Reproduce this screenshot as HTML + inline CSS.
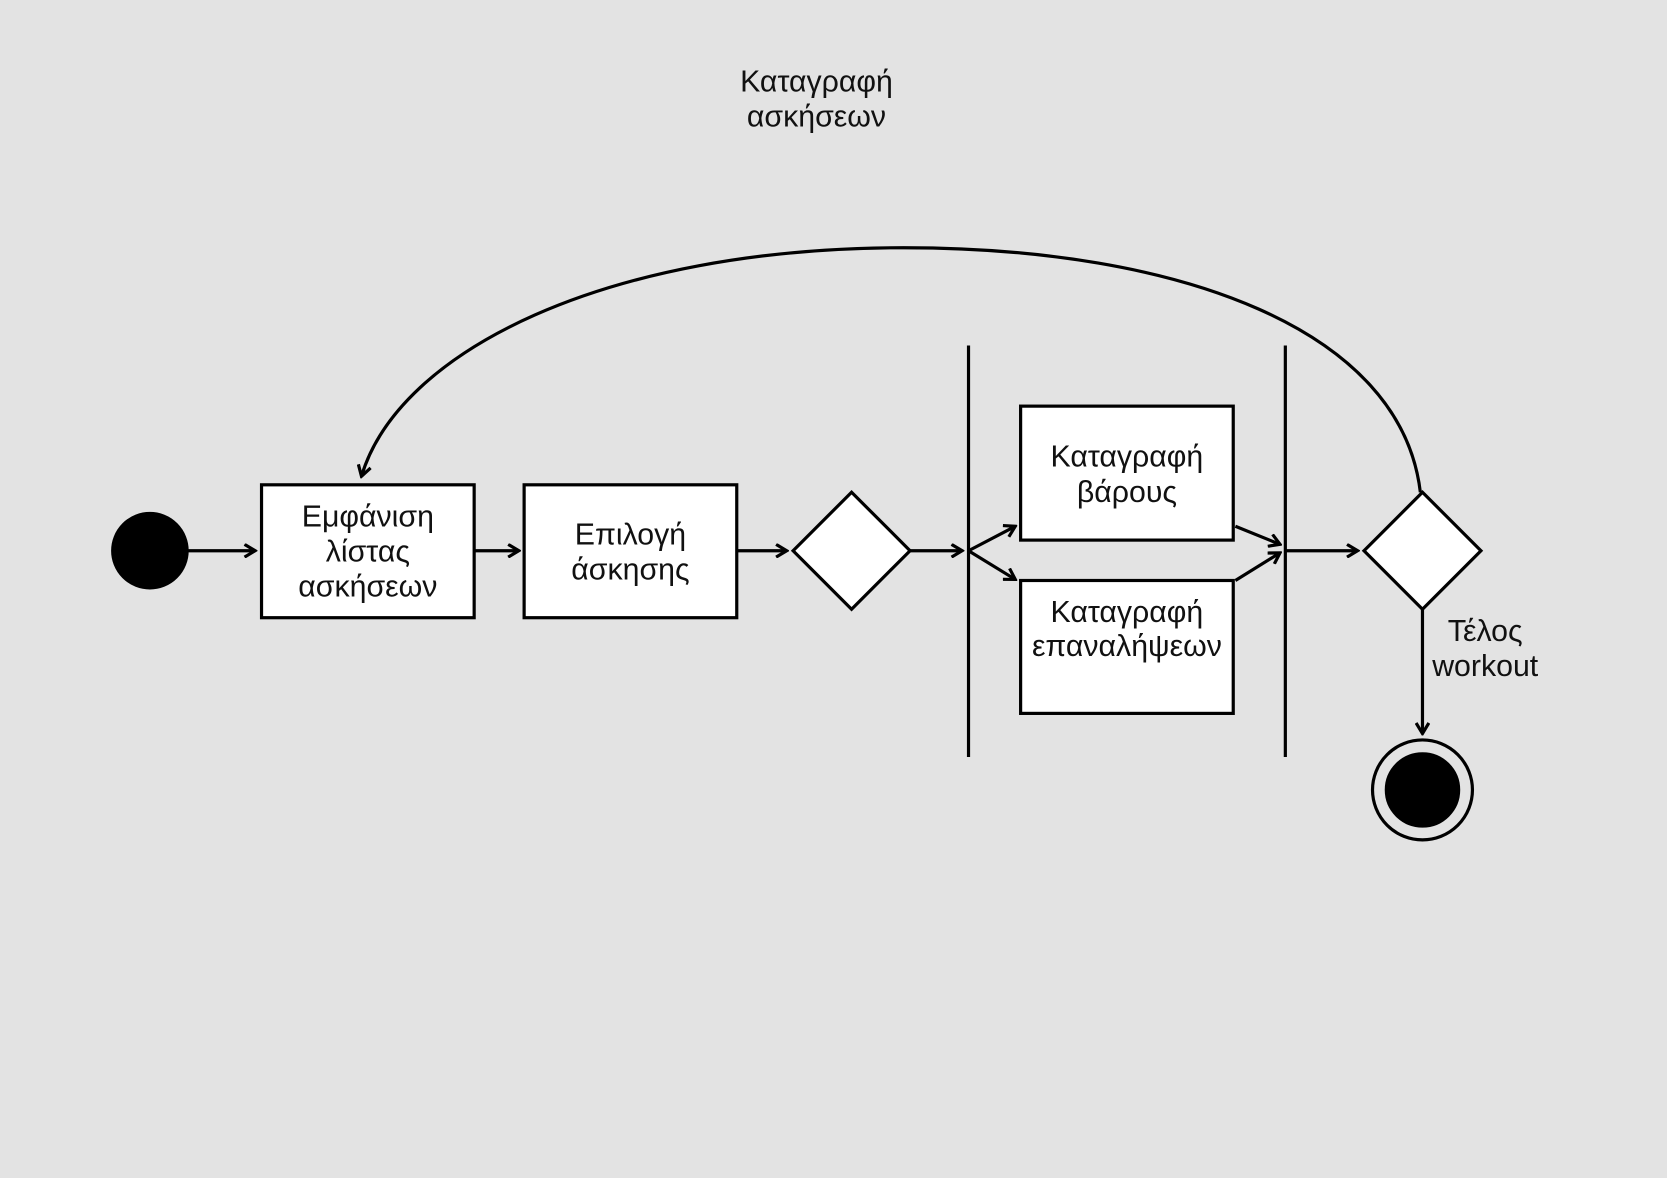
<!DOCTYPE html>
<html><head><meta charset="utf-8"><style>
html,body{margin:0;padding:0;background:#e3e3e3;}
svg{display:block}
text{font-family:"Liberation Sans","DejaVu Sans",sans-serif;font-size:28.5px;fill:#111;text-anchor:middle}
</style></head><body>
<svg width="1667" height="1178" viewBox="0 0 1568 1108" xmlns="http://www.w3.org/2000/svg">
<defs><marker id="a" markerWidth="14" markerHeight="14" refX="12" refY="7" orient="auto" markerUnits="userSpaceOnUse"><path d="M2,1 L12,7 L2,13" fill="none" stroke="#000" stroke-width="3"/></marker></defs>
<rect width="1568" height="1108" fill="#e3e3e3"/>
<g stroke="#000" stroke-width="3" fill="none">
<circle cx="141" cy="518" r="35" fill="#000"/>
<line x1="176" y1="518" x2="240" y2="518" marker-end="url(#a)"/>
<rect x="246" y="456" width="200" height="125" fill="#fff"/>
<line x1="446" y1="518" x2="488" y2="518" marker-end="url(#a)"/>
<rect x="493" y="456" width="200" height="125" fill="#fff"/>
<line x1="693" y1="518" x2="740" y2="518" marker-end="url(#a)"/>
<polygon points="801,463 856,518 801,573 746,518" fill="#fff"/>
<line x1="856" y1="518" x2="905" y2="518" marker-end="url(#a)"/>
<line x1="911" y1="325" x2="911" y2="712"/>
<line x1="911" y1="518" x2="955" y2="495" marker-end="url(#a)"/>
<line x1="911" y1="518" x2="955" y2="545" marker-end="url(#a)"/>
<rect x="960" y="382" width="200" height="126" fill="#fff"/>
<rect x="960" y="546" width="200" height="125" fill="#fff"/>
<line x1="1162" y1="495" x2="1204" y2="512" marker-end="url(#a)"/>
<line x1="1162" y1="546" x2="1204" y2="520" marker-end="url(#a)"/>
<line x1="1209" y1="325" x2="1209" y2="712"/>
<line x1="1209" y1="518" x2="1277" y2="518" marker-end="url(#a)"/>
<polygon points="1338,463 1393,518 1338,573 1283,518" fill="#fff"/>
<line x1="1338" y1="573" x2="1338" y2="690" marker-end="url(#a)"/>
<circle cx="1338" cy="743" r="47"/>
<circle cx="1338" cy="743" r="34" fill="#000"/>
<path d="M1336,463 C1318,310 1110,233 850,233 C570,233 375,330 340,448" marker-end="url(#a)"/>
</g>
<text x="768" y="86">Καταγραφή</text>
<text x="768" y="119">ασκήσεων</text>
<text x="346" y="495">Εμφάνιση</text>
<text x="346" y="528">λίστας</text>
<text x="346" y="561">ασκήσεων</text>
<text x="593" y="512">Επιλογή</text>
<text x="593" y="545">άσκησης</text>
<text x="1060" y="439">Καταγραφή</text>
<text x="1060" y="472">βάρους</text>
<text x="1060" y="585">Καταγραφή</text>
<text x="1060" y="617">επαναλήψεων</text>
<text x="1397" y="603">Τέλος</text>
<text x="1397" y="636">workout</text>
</svg>
</body></html>
